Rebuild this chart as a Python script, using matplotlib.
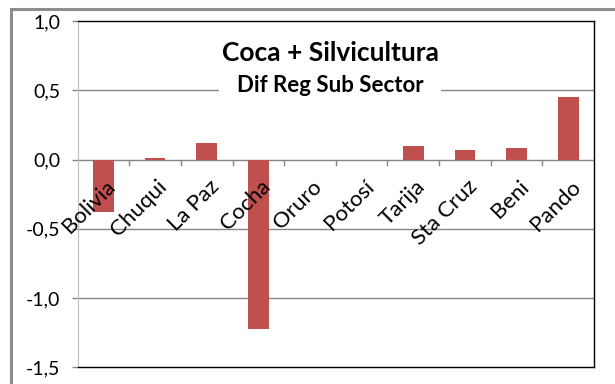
import matplotlib
matplotlib.use("Agg")
import matplotlib.pyplot as plt
from matplotlib.patches import Rectangle
import matplotlib.transforms as mtransforms
import numpy as np

plt.rcParams['font.family'] = ['Lato', 'DejaVu Sans']

# ---------------- data ----------------
regions = ['Bolivia', 'Chuqui', 'La Paz', 'Cocha', 'Oruro', 'Potosí',
           'Tarija', 'Sta Cruz', 'Beni', 'Pando']
dif_reg = [-0.38, 0.01, 0.117, -1.22, 0.0, 0.0, 0.10, 0.067, 0.083, 0.45]
y_ticks = [-1.5, -1.0, -0.5, 0.0, 0.5, 1.0]
title = 'Coca + Silvicultura'
subtitle = 'Dif Reg Sub Sector'

bar_color = '#C0504D'
grid_color = '#868686'

fig = plt.figure(figsize=(6.15, 3.84), dpi=100)
ax = fig.add_axes([77.6 / 615, 1 - 367.3 / 384, (594 - 77.6) / 615, (367.3 - 21) / 384])

# outer chart frame
fig.patches.append(Rectangle((11 / 615, -0.1), 1.2, 1 - 9 / 384 + 0.1,
                             transform=fig.transFigure, fill=False,
                             edgecolor='#8c8c8c', linewidth=2.2, zorder=0))

x = np.arange(len(regions))
ax.bar(x, dif_reg, width=0.40, color=bar_color, zorder=3)

ax.set_xlim(-0.5, len(regions) - 0.5)
ax.set_ylim(y_ticks[0], y_ticks[-1])
ax.set_yticks(y_ticks)
ax.set_yticklabels([('%.1f' % v).replace('.', ',') for v in y_ticks], fontsize=14)
ax.tick_params(axis='y', direction='out', length=4.5, width=1, color=grid_color, pad=8)
ax.set_xticks([])

for v in y_ticks[1:-1]:
    ax.axhline(v, color=grid_color, linewidth=1, zorder=1)

ax.spines['left'].set_color('#BFBFBF')
for s in ['top', 'right', 'bottom']:
    ax.spines[s].set_color('black')
    ax.spines[s].set_linewidth(1)

# category tick marks hanging below zero line
for b in np.arange(0.5, len(regions) - 0.5, 1.0):
    ax.plot([b, b], [0, -0.04], color=grid_color, linewidth=1, zorder=2, clip_on=False)

# rotated category labels near the zero line
offset = mtransforms.ScaledTranslation(2 / 100, -17 / 100, fig.dpi_scale_trans)
for xi, name in zip(x, regions):
    ax.text(xi, 0, name, rotation=45, rotation_mode='anchor', ha='right', va='top',
            fontsize=16, transform=ax.transData + offset, zorder=4)

ax.text(0.489, 0.9076, title, transform=ax.transAxes, ha='center', va='center',
        fontsize=19, fontweight='bold', zorder=6)
ax.text(0.489, 0.815, subtitle, transform=ax.transAxes, ha='center', va='center',
        fontsize=16, fontweight='bold', zorder=5,
        bbox=dict(facecolor='white', edgecolor='none', pad=13))

fig.savefig('out.png', dpi=100)
